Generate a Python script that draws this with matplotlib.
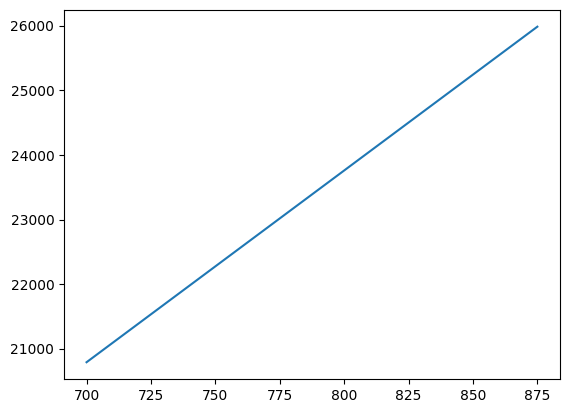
import matplotlib
matplotlib.use('Agg')
import matplotlib.pyplot as plt

x_vals = [700, 875]
y_vals = [20790, 25988]

fig, ax = plt.subplots(figsize=(5.69, 4.13), dpi=100)
fig.subplots_adjust(left=0.1125, right=0.984, bottom=0.0823, top=0.976)
ax.plot(x_vals, y_vals, color='#1f77b4')
ax.set_xticks([700, 725, 750, 775, 800, 825, 850, 875])

fig.savefig('out.png', dpi=100)
